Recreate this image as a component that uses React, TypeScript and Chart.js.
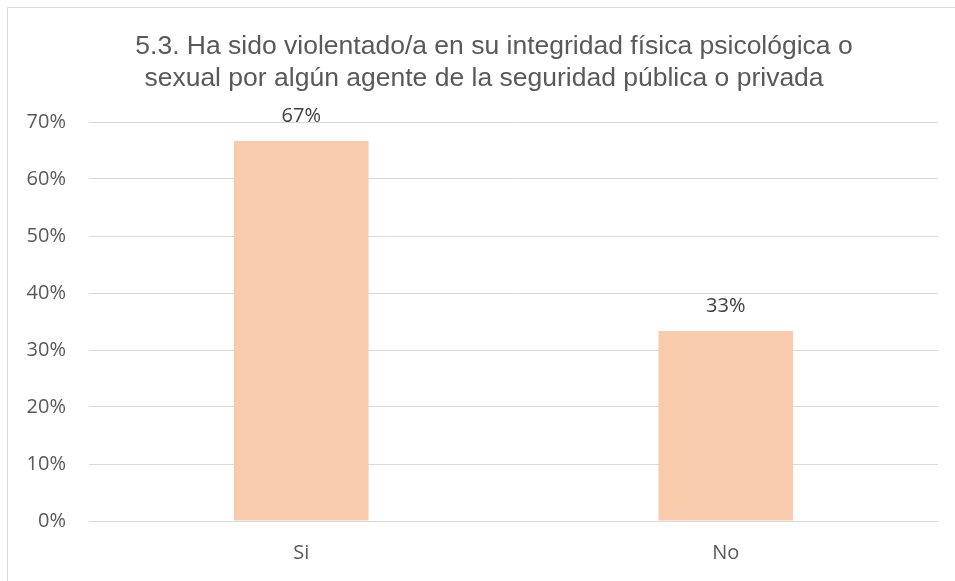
import React, { useEffect, useRef } from "react";
import { Chart, registerables } from "chart.js";

Chart.register(...registerables);

const categories = ["Si", "No"];
const values = [0.6667, 0.3333];
const valueLabels = ["67%", "33%"];
const titleLines = [
  "5.3. Ha sido violentado/a en su integridad física psicológica o",
  "sexual por algún agente de la seguridad pública o privada",
];
const yTicks = [0, 0.1, 0.2, 0.3, 0.4, 0.5, 0.6, 0.7];

const TICK_FONT = "'Open Sans', sans-serif";

const overlayPlugin = {
  id: "overlay",
  afterDatasetsDraw(chart: any) {
    const ctx = chart.ctx;
    ctx.save();
    // data labels
    const meta = chart.getDatasetMeta(0);
    ctx.fillStyle = "#404040";
    ctx.font = `20px ${TICK_FONT}`;
    ctx.textAlign = "center";
    ctx.textBaseline = "middle";
    meta.data.forEach((bar: any, i: number) => {
      ctx.fillText(valueLabels[i], bar.x, bar.y - 25);
    });
    // title
    ctx.fillStyle = "#595959";
    ctx.font = "26.5px 'Liberation Sans', Arial, sans-serif";
    ctx.textBaseline = "alphabetic";
    ctx.fillText(titleLines[0], 494, 54);
    ctx.fillText(titleLines[1], 484, 86);
    ctx.restore();
  },
};

export default function App() {
  const ref = useRef<HTMLCanvasElement | null>(null);
  useEffect(() => {
    if (!ref.current) return;
    const chart = new Chart(ref.current, {
      type: "bar",
      data: {
        labels: categories,
        datasets: [
          {
            data: values,
            backgroundColor: "#F8CBAD",
            barPercentage: 0.317,
            categoryPercentage: 1,
          },
        ],
      },
      options: {
        animation: false,
        responsive: false,
        maintainAspectRatio: false,
        layout: { padding: { top: 122, right: 17, bottom: 0, left: 0 } },
        plugins: {
          legend: { display: false },
          title: { display: false },
          tooltip: { enabled: false },
        },
        scales: {
          x: {
            grid: { display: false, drawTicks: false },
            border: { display: false },
            ticks: {
              color: "#595959",
              font: { family: TICK_FONT, size: 20 },
              padding: 20,
            },
            afterFit(scale: any) {
              scale.height = 60;
            },
          },
          y: {
            min: 0,
            max: 0.7,
            afterBuildTicks(scale: any) {
              scale.ticks = yTicks.map((v) => ({ value: v }));
            },
            grid: { color: "#d9d9d9", lineWidth: 1, drawTicks: false },
            border: { display: false },
            ticks: {
              color: "#595959",
              font: { family: TICK_FONT, size: 20 },
              padding: 23,
              callback: (v: any) => Math.round(Number(v) * 100) + "%",
            },
            afterFit(scale: any) {
              scale.width = 89;
            },
          },
        },
      },
      plugins: [overlayPlugin],
    });
    return () => chart.destroy();
  }, []);
  return (
    <div style={{ position: "fixed", left: 0, top: 0, width: 955, height: 581, background: "#fff", overflow: "hidden" }}>
      <canvas ref={ref} width={955} height={581} style={{ position: "absolute", left: 0, top: 0 }} />
      <div
        style={{
          position: "absolute",
          left: 7,
          top: 7,
          width: 1000,
          height: 1000,
          borderLeft: "1px solid #d9d9d9",
          borderTop: "1px solid #d9d9d9",
          pointerEvents: "none",
        }}
      />
    </div>
  );
}
